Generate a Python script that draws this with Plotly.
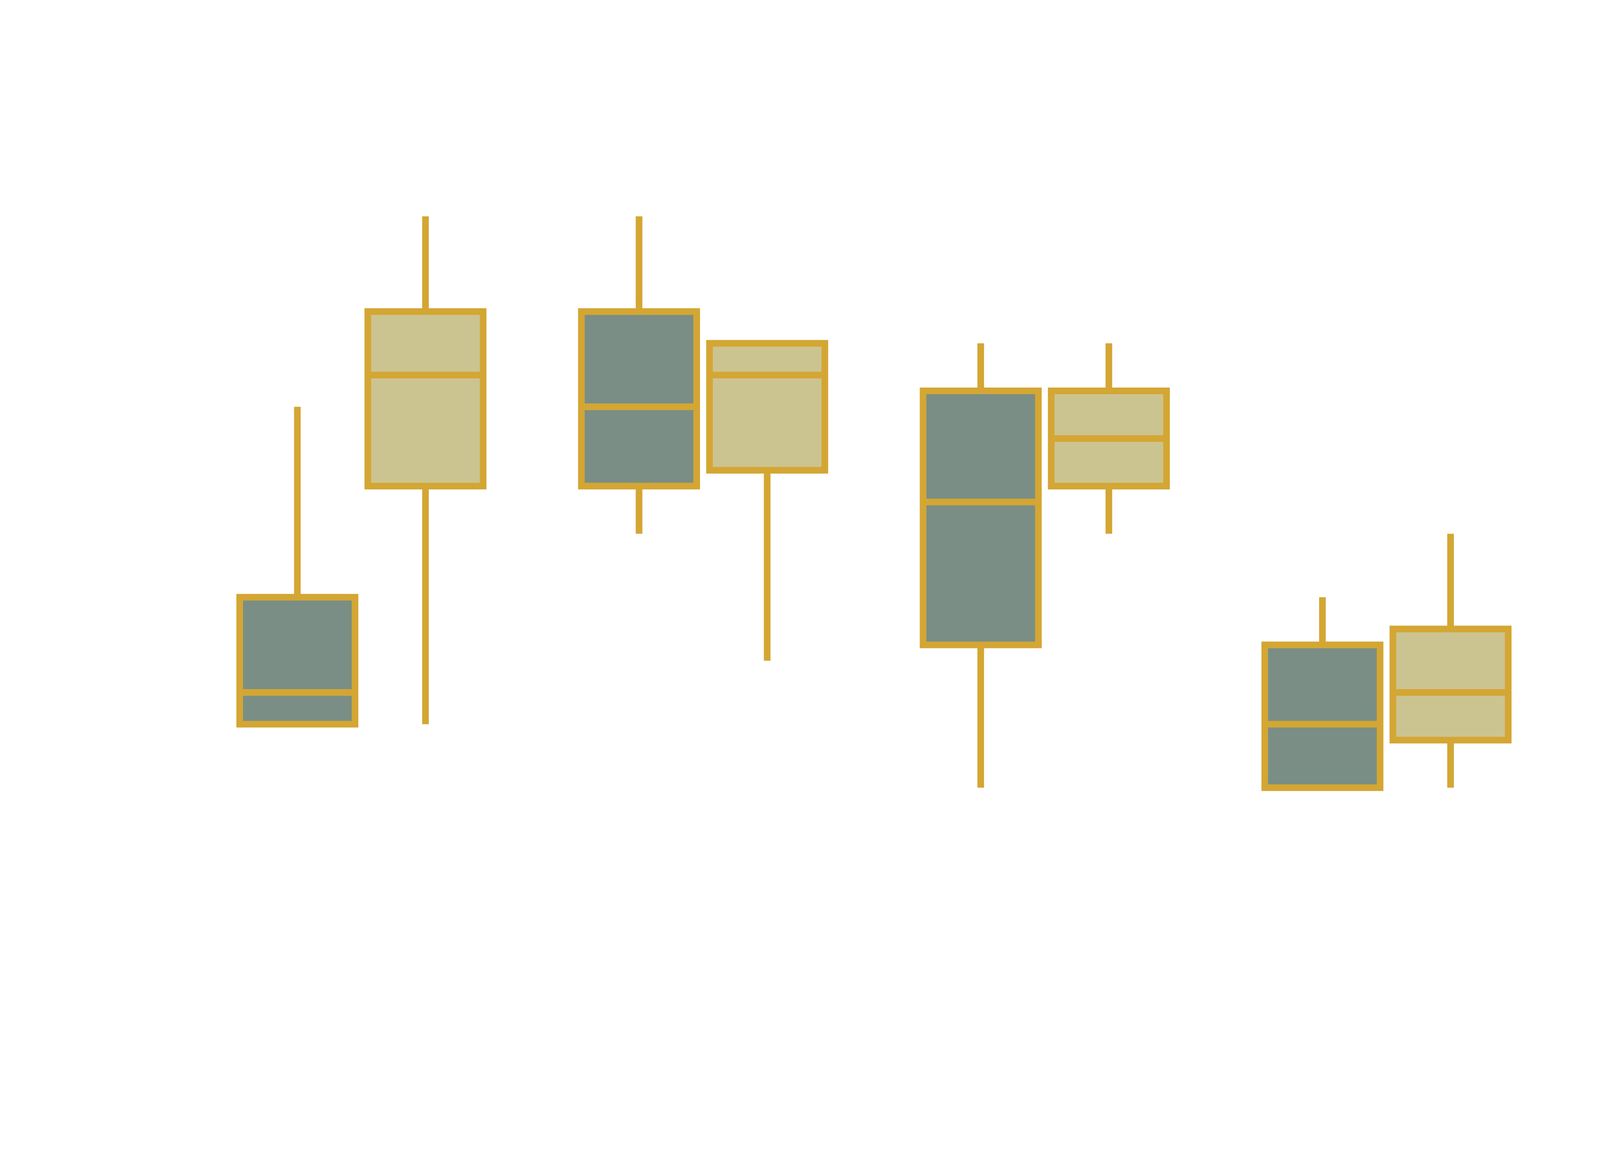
import plotly.graph_objects as go

categories = ["A", "B", "C", "D"]

# series 1 (grey-green boxes)
s1_lower = [4, 16, 0, 0]
s1_q1 = [4, 19, 9, 0]
s1_median = [6, 24, 18, 4]
s1_q3 = [12, 30, 25, 9]
s1_upper = [24, 36, 28, 12]

# series 2 (khaki boxes)
s2_lower = [4, 8, 16, 0]
s2_q1 = [19, 20, 19, 3]
s2_median = [26, 26, 22, 6]
s2_q3 = [30, 28, 25, 10]
s2_upper = [36, 28, 28, 16]

GOLD = "#D4A633"
DARK = "#7A8E85"
LIGHT = "#CCC490"

fig = go.Figure()
fig.add_trace(go.Box(
    x=categories, q1=s1_q1, median=s1_median, q3=s1_q3,
    lowerfence=s1_lower, upperfence=s1_upper,
    fillcolor=DARK, line=dict(color=GOLD, width=17),
    whiskerwidth=0, name="Series 1", showlegend=False,
))
fig.add_trace(go.Box(
    x=categories, q1=s2_q1, median=s2_median, q3=s2_q3,
    lowerfence=s2_lower, upperfence=s2_upper,
    fillcolor=LIGHT, line=dict(color=GOLD, width=17),
    whiskerwidth=0, name="Series 2", showlegend=False,
))

fig.update_layout(
    autosize=True,
    boxmode="group", boxgap=0.25, boxgroupgap=0.1,
    paper_bgcolor="white", plot_bgcolor="white",
    margin=dict(l=0, r=0, t=0, b=0, pad=0),
    xaxis=dict(visible=False, range=[-0.5, 3.5], domain=[536 / 4500, 1 - 120 / 4500]),
    yaxis=dict(visible=False, range=[-1, 37], domain=[943 / 3000, 1 - 513 / 3000]),
    showlegend=False,
)

post = """
document.documentElement.style.margin = '0';
document.documentElement.style.height = '100%';
document.body.style.margin = '0';
document.body.style.height = '100%';
var gd = document.getElementById('{plot_id}');
gd.style.width = '100vw';
gd.style.height = '100vh';
Plotly.Plots.resize(gd);
"""

fig.write_html(
    "out.html",
    default_width="100%",
    default_height="100%",
    config={"displayModeBar": False},
    post_script=post,
)
